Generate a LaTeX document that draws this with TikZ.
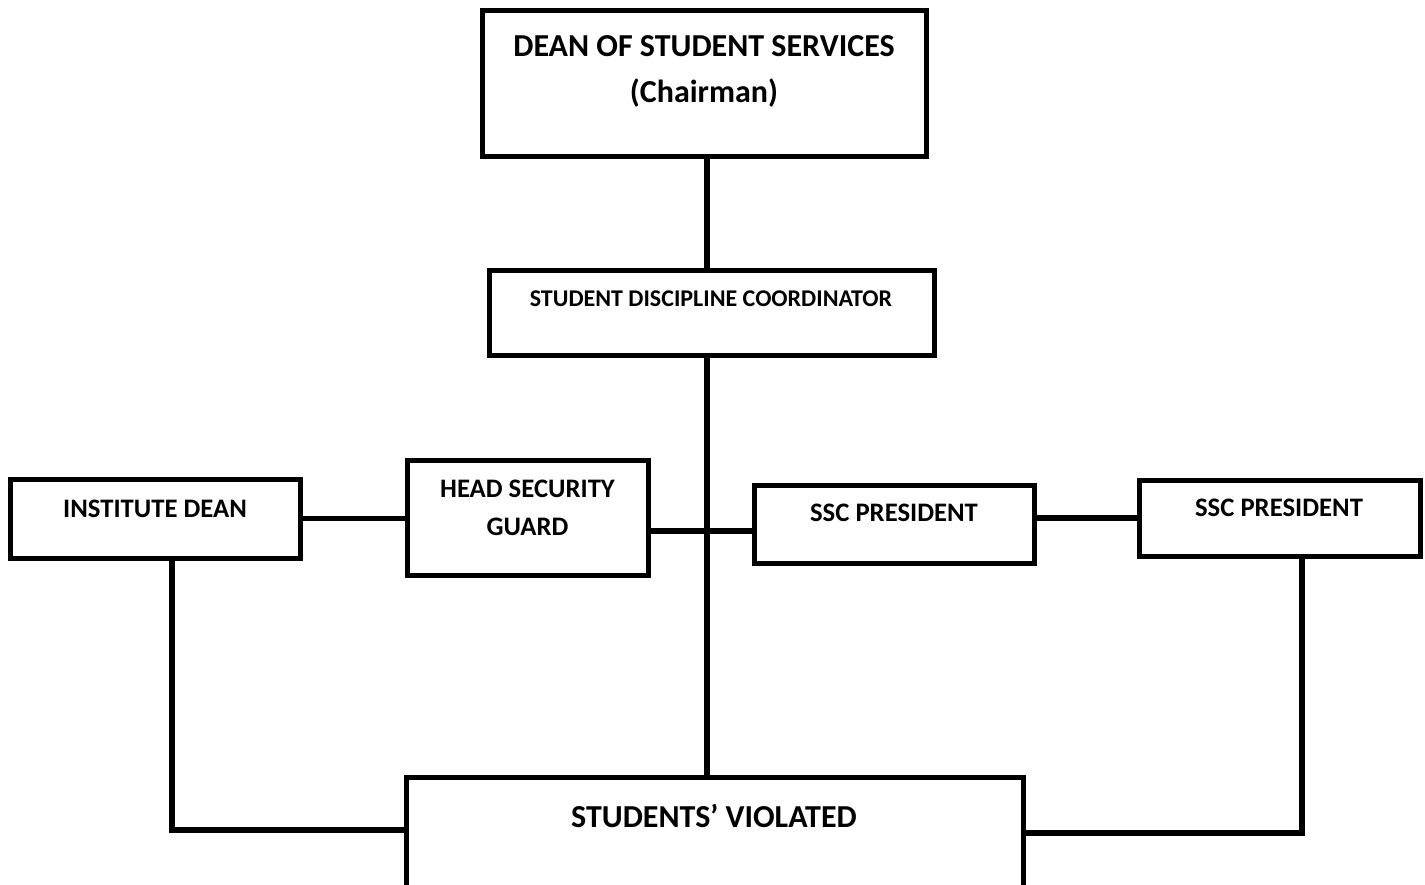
\documentclass[tikz,border=0pt]{standalone}
\usepackage{fontspec}
\setmainfont{Carlito}
\providecommand{\BoxLine}{5pt}
\providecommand{\WireLine}{5.5pt}
\newcommand{\BigText}{\bfseries\fontsize{32}{38}\selectfont}
\newcommand{\MidText}{\bfseries\fontsize{26.7}{32}\selectfont}
\newcommand{\SmallText}{\bfseries\fontsize{24}{29}\selectfont}

\begin{document}
\begin{tikzpicture}[x=1pt,y=-1pt,
    box/.style={draw,line width=\BoxLine,inner sep=0pt,outer sep=0pt,fill=white},
    lbl/.style={anchor=base,inner sep=0pt},
    wire/.style={line width=\WireLine}]

% Page frame, pixel units with y going down
\useasboundingbox (0,0) rectangle (1425,884);
\clip (0,0) rectangle (1425,884);

% Helper points for the connector runs
\coordinate (spine) at (707,0);
\coordinate (midlink) at (0,531);
\coordinate (lfoot) at (172,830);
\coordinate (rfoot) at (1302,833);

% =====================================================
% TOP: DEAN AND COORDINATOR
% =====================================================
\node[box,minimum width=444pt,minimum height=146pt] (dean) at (704,83) {};
\node[lbl,font=\BigText] (deanTxt) at (704,56) {DEAN OF STUDENT SERVICES};
\node[lbl,font=\BigText] (chairTxt) at (704,102) {(Chairman)};

\node[box,minimum width=445pt,minimum height=85pt] (coord) at (711.5,312.5) {};
\node[lbl,font=\SmallText] (coordTxt) at (711,306) {STUDENT DISCIPLINE COORDINATOR};

% =====================================================
% MIDDLE ROW
% =====================================================
\node[box,minimum width=290pt,minimum height=79pt] (inst) at (155,518.5) {};
\node[lbl,font=\MidText] (instTxt) at (155,517) {INSTITUTE DEAN};

\node[box,minimum width=241pt,minimum height=115pt] (head) at (527.5,517.5) {};
\node[lbl,font=\MidText] (headTxtA) at (527.5,497.5) {HEAD SECURITY};
\node[lbl,font=\MidText] (headTxtB) at (527.5,535.5) {GUARD};

\node[box,minimum width=280pt,minimum height=78pt] (sscA) at (894,524) {};
\node[lbl,font=\MidText] (sscATxt) at (894,521.5) {SSC PRESIDENT};

\node[box,minimum width=281pt,minimum height=76pt] (sscB) at (1279.5,518) {};
\node[lbl,font=\MidText] (sscBTxt) at (1279,516.5) {SSC PRESIDENT};

% =====================================================
% BOTTOM BOX (runs off the page)
% =====================================================
\node[box,minimum width=617pt,minimum height=173pt] (stud) at (714.5,863.5) {};
\node[lbl,font=\BigText] (studTxt) at (714,827) {STUDENTS’ VIOLATED};

% =====================================================
% CONNECTORS
% =====================================================
\draw[wire] (dean.south -| spine) -- (coord.north -| spine);
\draw[wire] (coord.south -| spine) -- (stud.north -| spine);

\draw[wire] (inst.east) -- (head.west |- inst.east);
\draw[wire] (head.east |- midlink) -- (sscA.west |- midlink);
\draw[wire] (sscA.east |- sscB.west) -- (sscB.west);

\draw[wire] (inst.south -| lfoot) -- (lfoot) -- (stud.west |- lfoot);
\draw[wire] (sscB.south -| rfoot) -- (rfoot) -- (stud.east |- rfoot);

\end{tikzpicture}
\end{document}
